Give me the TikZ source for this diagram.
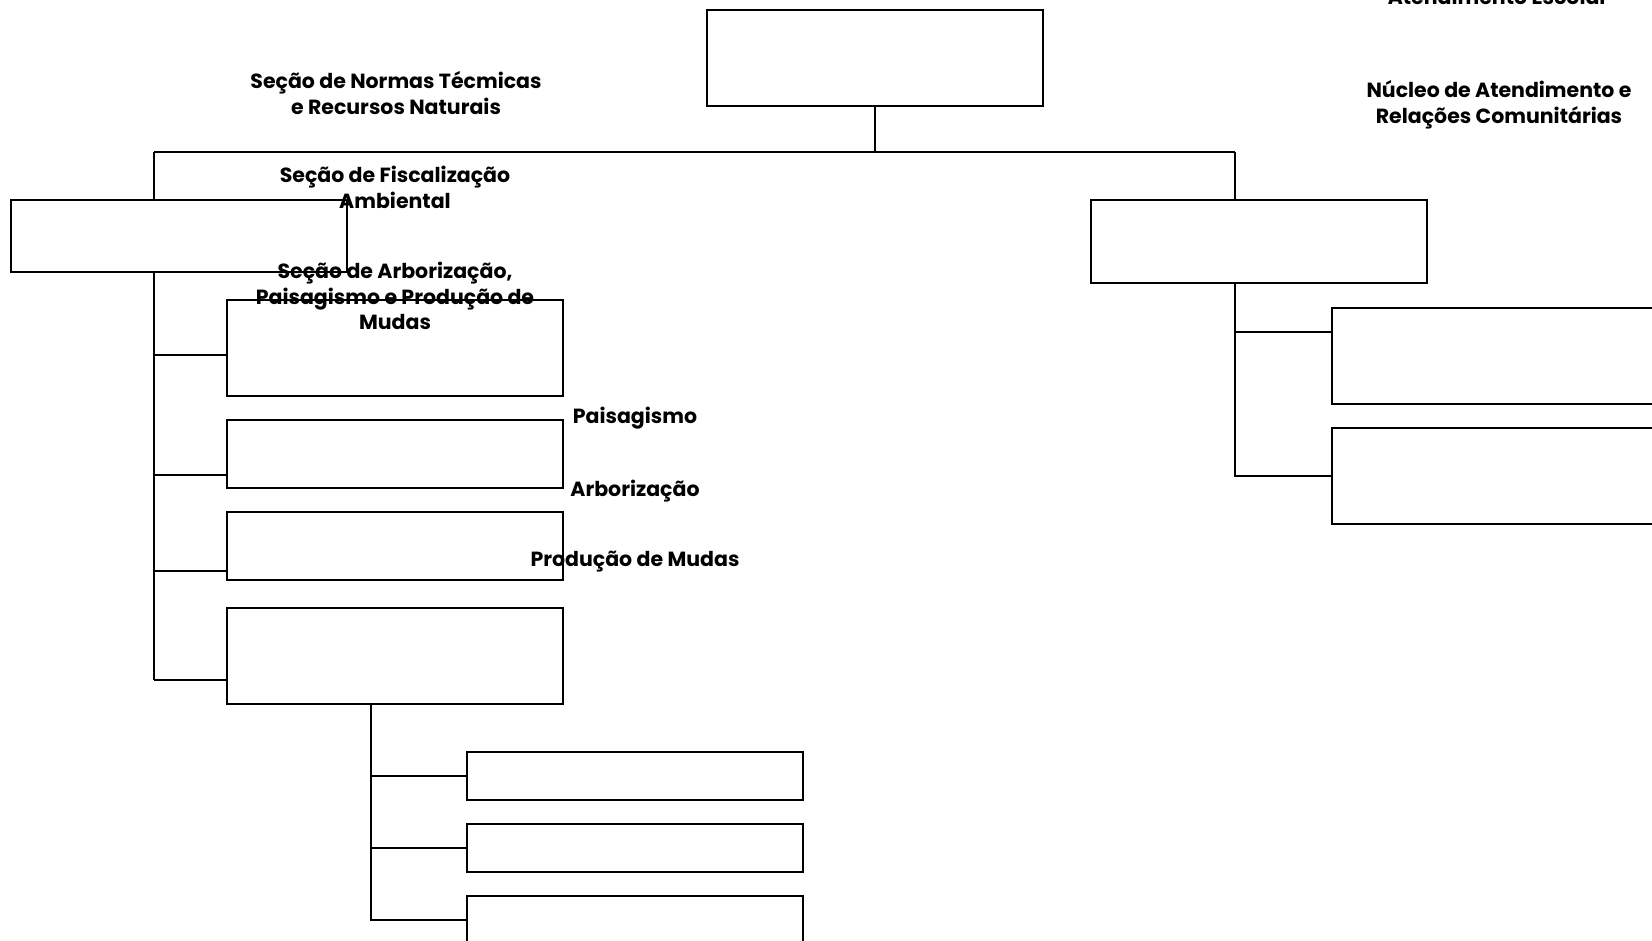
\documentclass[tikz,border=0pt]{standalone}
\usepackage{fontspec}
\setmainfont{Poppins}
\begin{document}
\begin{tikzpicture}[x=1pt,y=-1pt,
  box/.style={draw, line width=2pt, inner sep=0pt, outer sep=0pt, minimum width=336pt, anchor=north west},
  conn/.style={line width=2pt},
  lbl/.style={font=\bfseries\fontsize{20.5}{24}\selectfont, anchor=base, inner sep=0pt}]
\useasboundingbox (0,0) rectangle (1652,941);
\clip (0,0) rectangle (1652,941);
% texts
\node[lbl] (tae) at (1498,5) {Atendimento Escolar};
\node[lbl] (tn1) at (1499,98) {Núcleo de Atendimento e};
\node[lbl] (tn2) at (1499,124) {Relações Comunitárias};
\node[lbl] (ts1) at (396,89) {Seção de Normas Técmicas};
\node[lbl] (ts2) at (396,115) {e Recursos Naturais};
\node[lbl] (tf1) at (395,183) {Seção de Fiscalização};
\node[lbl] (tf2) at (395,209) {Ambiental};
\node[lbl] (ta1) at (395,279) {Seção de Arborização,};
\node[lbl] (ta2) at (395,305) {Paisagismo e Produção de};
\node[lbl] (ta3) at (395,330) {Mudas};
\node[lbl] (tp) at (635,423) {Paisagismo};
\node[lbl] (tar) at (635,496) {Arborização};
\node[lbl] (tpm) at (635,566) {Produção de Mudas};
% boxes
\node[box, minimum height=96pt] (top) at (707,10) {};
\node[box, minimum height=72pt] (L) at (11,200) {};
\node[box, minimum height=83pt] (R) at (1091,200) {};
\node[box, minimum height=96pt] (L1) at (227,300) {};
\node[box, minimum height=68pt] (L2) at (227,420) {};
\node[box, minimum height=68pt] (L3) at (227,512) {};
\node[box, minimum height=96pt] (L4) at (227,608) {};
\node[box, minimum height=48pt] (S1) at (467,752) {};
\node[box, minimum height=48pt] (S2) at (467,824) {};
\node[box, minimum height=48pt] (S3) at (467,896) {};
\node[box, minimum height=96pt] (R1) at (1332,308) {};
\node[box, minimum height=96pt] (R2) at (1332,428) {};
% connectors
\coordinate (busL) at (154,152);
\coordinate (busR) at (1235,152);
\draw[conn] (top.south) -- (top.south |- busL);
\draw[conn] (busL) -- (busR);
\draw[conn] (busL) -- (busL |- L.north);
\draw[conn] (busR) -- (busR |- R.north);
\coordinate (bL1) at (154,355);
\coordinate (bL2) at (154,475);
\coordinate (bL3) at (154,571);
\coordinate (bL4) at (154,680);
\draw[conn] (busL |- L.south) -- (bL4);
\draw[conn] (bL1) -- (bL1 -| L1.west);
\draw[conn] (bL2) -- (bL2 -| L2.west);
\draw[conn] (bL3) -- (bL3 -| L3.west);
\draw[conn] (bL4) -- (bL4 -| L4.west);
\coordinate (sp) at (371,704);
\draw[conn] (sp) -- (sp |- S3.west) -- (S3.west);
\draw[conn] (sp |- S1.west) -- (S1.west);
\draw[conn] (sp |- S2.west) -- (S2.west);
\coordinate (bR1) at (1235,332);
\draw[conn] (busR |- R.south) -- (busR |- R2.west) -- (R2.west);
\draw[conn] (bR1) -- (bR1 -| R1.west);
\end{tikzpicture}
\end{document}
